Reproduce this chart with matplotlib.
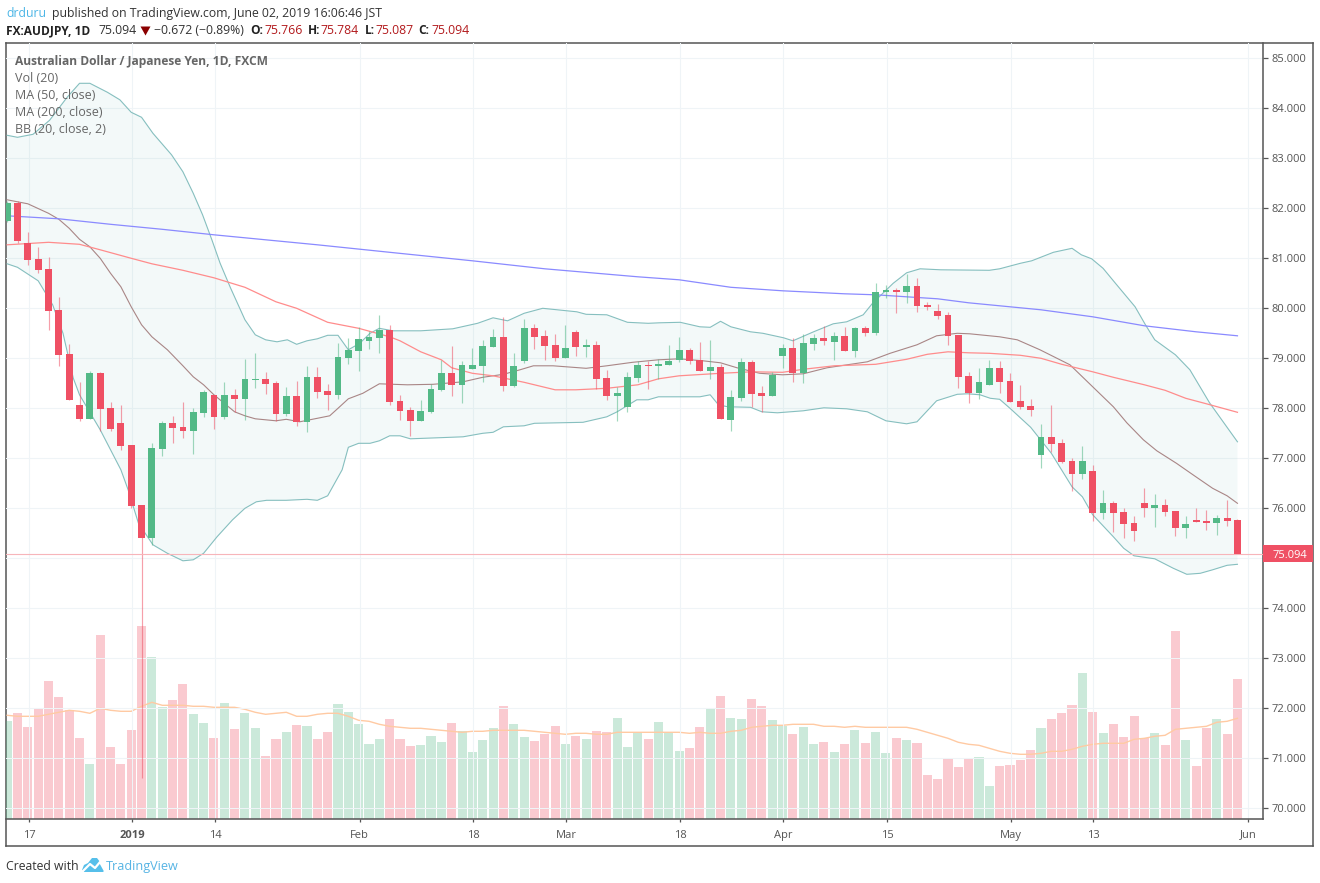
# -*- coding: utf-8 -*-
#-------------------------------------------------------------------------------
# AUD/JPY daily candles with volume, moving averages and Bollinger bands
#-------------------------------------------------------------------------------
import matplotlib
matplotlib.use("Agg")
import matplotlib.pyplot as plt
from matplotlib.patches import Polygon, Rectangle
from matplotlib.transforms import Affine2D, blended_transform_factory

#-------------------------------------------------------------------------------
# candles, one value per trading day
#-------------------------------------------------------------------------------
opens = [81.75, 82.10, 81.30, 80.98, 80.78, 79.96, 79.08, 78.07, 77.79, 78.71,
         78.01, 77.71, 77.27, 76.07, 75.41, 77.19, 77.71, 77.63, 77.55, 77.91,
         78.27, 77.83, 78.27, 78.19, 78.57, 78.59, 78.51, 77.89, 78.25, 77.73,
         78.63, 78.35, 78.27, 79.01, 79.15, 79.35, 79.41, 79.57, 78.15, 77.97,
         77.75, 77.93, 78.37, 78.71, 78.47, 78.79, 78.85, 79.23, 79.43, 78.45,
         78.95, 79.61, 79.45, 79.27, 79.01, 79.53, 79.23, 79.27, 78.61, 78.25,
         78.03, 78.61, 78.87, 78.85, 78.87, 78.97, 79.17, 78.97, 78.75, 78.83,
         77.77, 78.21, 78.93, 78.31, 78.25, 79.05, 79.21, 78.71, 79.29, 79.41,
         79.33, 79.45, 79.15, 79.61, 79.51, 80.33, 80.37, 80.33, 80.45, 80.07,
         79.95, 79.87, 79.47, 78.65, 78.31, 78.47, 78.81, 78.55, 78.15, 78.05,
         77.07, 77.43, 77.31, 76.95, 76.69, 76.75, 75.91, 76.11, 75.93, 75.71,
         76.11, 76.01, 76.07, 75.95, 75.61, 75.77, 75.75, 75.71, 75.81, 75.766]
highs = [82.15, 82.14, 81.52, 81.22, 81.02, 80.22, 79.29, 78.53, 78.74, 78.72,
         78.13, 78.07, 77.27, 76.07, 77.30, 77.75, 77.85, 78.13, 78.00, 78.37,
         78.27, 78.53, 78.39, 78.99, 79.11, 78.73, 78.55, 78.43, 78.55, 78.85,
         78.83, 78.49, 79.31, 79.41, 79.63, 79.55, 79.87, 79.67, 78.27, 78.03,
         78.17, 78.49, 78.97, 79.25, 78.95, 79.21, 79.37, 79.59, 79.83, 79.11,
         79.79, 79.69, 79.57, 79.49, 79.67, 79.57, 79.39, 79.35, 78.77, 78.43,
         78.73, 78.95, 78.95, 78.99, 79.27, 79.43, 79.21, 79.33, 79.37, 78.89,
         78.37, 79.01, 78.97, 78.45, 78.73, 79.29, 79.41, 79.49, 79.49, 79.65,
         79.53, 79.63, 79.63, 79.65, 80.51, 80.47, 80.41, 80.69, 80.61, 80.13,
         80.09, 79.93, 79.47, 78.73, 78.81, 78.97, 78.95, 78.71, 78.47, 78.19,
         77.69, 78.07, 77.39, 77.01, 77.25, 76.87, 76.37, 76.15, 76.01, 75.85,
         76.41, 76.29, 76.19, 75.95, 75.85, 76.01, 75.97, 75.87, 76.17, 75.784]
lows = [81.72, 81.30, 80.86, 80.70, 79.57, 78.85, 78.17, 77.75, 77.79, 77.54,
        77.55, 77.17, 76.00, 70.60, 75.27, 77.05, 77.31, 77.41, 77.09, 77.83,
        77.59, 77.79, 77.93, 77.77, 78.41, 78.29, 77.75, 77.85, 77.65, 77.53,
        78.21, 77.97, 78.19, 78.89, 78.75, 79.19, 79.11, 78.07, 77.77, 77.45,
        77.75, 77.91, 78.35, 78.25, 78.11, 78.79, 78.53, 79.23, 78.35, 78.43,
        78.91, 79.19, 78.97, 78.95, 79.01, 79.05, 79.03, 78.39, 78.17, 77.75,
        77.93, 78.53, 78.39, 78.59, 78.87, 78.93, 78.89, 78.75, 78.59, 77.79,
        77.55, 78.15, 78.03, 77.93, 78.25, 78.81, 78.53, 78.51, 79.17, 79.27,
        78.97, 79.15, 79.03, 79.45, 79.47, 80.21, 79.91, 80.11, 79.93, 79.97,
        79.79, 79.27, 78.41, 78.11, 78.19, 78.47, 78.31, 78.13, 77.99, 77.85,
        76.81, 77.13, 76.91, 76.35, 76.59, 75.75, 75.79, 75.53, 75.41, 75.35,
        75.83, 75.63, 75.85, 75.45, 75.41, 75.73, 75.57, 75.47, 75.65, 75.087]
closes = [82.10, 81.35, 80.97, 80.77, 79.95, 79.07, 78.17, 77.79, 78.71, 77.99,
          77.59, 77.25, 76.05, 75.41, 77.20, 77.71, 77.61, 77.55, 77.93, 78.33,
          77.83, 78.27, 78.19, 78.59, 78.59, 78.49, 77.89, 78.25, 77.73, 78.63,
          78.33, 78.27, 79.03, 79.17, 79.39, 79.43, 79.57, 78.13, 77.95, 77.75,
          77.95, 78.39, 78.71, 78.47, 78.87, 78.87, 79.25, 79.43, 78.45, 78.85,
          79.61, 79.43, 79.25, 79.01, 79.21, 79.23, 79.27, 78.59, 78.25, 78.31,
          78.63, 78.87, 78.85, 78.89, 78.95, 79.17, 78.95, 78.75, 78.83, 77.79,
          78.23, 78.93, 78.29, 78.25, 78.67, 79.21, 78.71, 79.31, 79.41, 79.35,
          79.45, 79.15, 79.61, 79.51, 80.33, 80.37, 80.33, 80.45, 80.05, 80.03,
          79.85, 79.45, 78.63, 78.31, 78.53, 78.81, 78.53, 78.13, 78.03, 77.97,
          77.43, 77.29, 76.93, 76.69, 76.95, 75.91, 76.11, 75.91, 75.69, 75.55,
          76.01, 76.07, 75.93, 75.61, 75.69, 75.73, 75.71, 75.81, 75.75, 75.094]
last_price = 75.094

#-------------------------------------------------------------------------------
# volume (no scale on the chart, so arbitrary units) and its average
#-------------------------------------------------------------------------------
volume = [98, 106, 92, 110, 138, 122, 109, 81, 55, 184,
          72, 55, 89, 193, 162, 112, 119, 135, 105, 96,
          81, 116, 90, 106, 91, 63, 80, 87, 94, 93,
          80, 87, 115, 107, 95, 75, 80, 100, 80, 73,
          74, 83, 77, 96, 88, 67, 79, 91, 113, 95,
          82, 78, 85, 93, 75, 83, 80, 88, 87, 101,
          72, 86, 80, 97, 87, 68, 71, 92, 111, 123,
          101, 100, 120, 113, 99, 93, 85, 92, 75, 77,
          67, 75, 89, 76, 87, 66, 81, 79, 76, 44,
          40, 60, 52, 61, 62, 33, 53, 54, 59, 69,
          91, 100, 106, 114, 146, 107, 86, 95, 82, 103,
          81, 86, 74, 188, 79, 53, 91, 100, 85, 140]
vol_ma = [104, 103, 103, 103, 105, 107, 109, 108, 106, 111,
          109, 108, 108, 113, 117, 114, 114, 114, 113, 113,
          112, 112, 112, 110, 107, 105, 106, 107, 103, 103,
          105, 106, 106, 103, 99, 98, 95, 93, 92, 91,
          91, 90, 89, 88, 87, 88, 88, 89, 89, 89,
          89, 88, 87, 86, 85, 86, 86, 85, 85, 87,
          87, 87, 87, 87, 87, 87, 86, 87, 86, 86,
          88, 89, 92, 93, 94, 94, 95, 95, 95, 93,
          93, 92, 93, 92, 92, 92, 92, 92, 90, 87,
          84, 81, 77, 75, 74, 71, 68, 66, 65, 65,
          66, 68, 68, 70, 73, 75, 76, 76, 76, 80,
          81, 83, 84, 90, 91, 92, 93, 97, 98, 101]

#-------------------------------------------------------------------------------
# indicator lines: bar number of each vertex, then its price
#-------------------------------------------------------------------------------
ma200_x = [0, 5, 10, 15, 20, 25, 30, 37, 45, 52, 61, 65, 70, 75, 81, 84,
           90, 93, 100, 105, 110, 115, 119]
ma200_y = [81.85, 81.79, 81.68, 81.58, 81.47, 81.37, 81.27, 81.12, 80.95, 80.79,
           80.63, 80.57, 80.42, 80.35, 80.29, 80.27, 80.19, 80.11, 79.97, 79.83,
           79.65, 79.53, 79.45]

ma50_x = [0, 4, 7, 9, 12, 14, 17, 20, 23, 26, 28, 31, 34, 37, 38, 40, 42, 43, 45,
          47, 50, 53, 55, 58, 61, 63, 65, 69, 72, 75, 77, 80, 84, 87, 89, 91, 93,
          95, 98, 100, 102, 105, 107, 110, 112, 114, 116, 119]
ma50_y = [81.27, 81.32, 81.28, 81.17, 81.00, 80.89, 80.76, 80.61, 80.42, 80.13,
          80.00, 79.72, 79.60, 79.43, 79.35, 79.13, 78.97, 78.81, 78.70, 78.65,
          78.52, 78.37, 78.37, 78.40, 78.47, 78.59, 78.65, 78.70, 78.73, 78.72,
          78.78, 78.85, 78.88, 78.98, 79.08, 79.13, 79.11, 79.10, 79.06, 79.00,
          78.88, 78.73, 78.62, 78.47, 78.36, 78.20, 78.09, 77.92]

bb_mid_x = [0, 2, 4, 5, 6, 7, 8, 9, 10, 11, 12, 13, 14, 15.5, 17, 18, 19, 20, 21,
            22, 23, 24, 26, 27, 28.3, 30, 31.2, 32, 33, 34.4, 36, 38.7, 41.2,
            44.1, 46, 48, 49.6, 50.9, 52.8, 56, 58, 60.5, 62, 63, 65, 67.3, 69,
            70.6, 72.8, 75, 77, 79.3, 83.2, 85.4, 88, 89.9, 91.9, 93.1, 96, 97.7,
            99.9, 102.8, 105, 107, 108.3, 109.9, 111.2, 113.1, 114.7, 116.6, 118,
            119]
bb_mid_y = [82.17, 82.09, 81.90, 81.78, 81.60, 81.38, 81.23, 81.00, 80.70, 80.43,
            80.03, 79.67, 79.43, 79.17, 78.85, 78.63, 78.47, 78.27, 78.10, 77.93,
            77.85, 77.79, 77.75, 77.78, 77.73, 77.80, 77.85, 78.00, 78.19, 78.30,
            78.49, 78.47, 78.48, 78.53, 78.62, 78.68, 78.77, 78.85, 78.85, 78.80,
            78.85, 78.92, 78.95, 78.97, 78.99, 78.95, 78.91, 78.81, 78.70, 78.67,
            78.69, 78.81, 78.93, 79.10, 79.27, 79.45, 79.50, 79.49, 79.43, 79.37,
            79.17, 78.87, 78.43, 78.03, 77.71, 77.37, 77.15, 76.90, 76.67, 76.40,
            76.25, 76.10]

bb_up_x = [0, 1, 2.5, 4.1, 5.8, 7, 8, 9.7, 10.9, 12, 13, 14.1, 15.9, 17, 18, 18.9,
           19.8, 20.6, 21.6, 23, 24, 25, 26.1, 27.1, 28, 29, 30, 31, 32, 33,
           34.1, 35.1, 36, 37.3, 40, 43.1, 45.5, 47, 48.4, 50, 51.8, 55.1, 56,
           58, 60, 62, 63.1, 65.1, 67, 68, 69, 70, 71.9, 73.1, 75.1, 76, 78, 79.9,
           81.2, 82.8, 83.7, 85.7, 87, 88.3, 90.3, 95, 96, 98, 99.1, 101.2, 103,
           103.9, 104.9, 106, 107.2, 109.1, 110.1, 111, 113, 114.4, 116.3, 119]
bb_up_y = [83.46, 83.42, 83.48, 83.76, 84.22, 84.50, 84.50, 84.32, 84.17, 83.92,
           83.82, 83.50, 83.07, 82.73, 82.30, 81.87, 81.37, 80.90, 80.41, 79.77,
           79.47, 79.37, 79.33, 79.37, 79.28, 79.35, 79.39, 79.46, 79.46, 79.17,
           79.30, 79.50, 79.60, 79.55, 79.55, 79.59, 79.70, 79.81, 79.75, 79.90,
           80.00, 79.93, 79.88, 79.87, 79.72, 79.70, 79.71, 79.72, 79.63, 79.62,
           79.74, 79.63, 79.53, 79.50, 79.41, 79.35, 79.53, 79.69, 79.73, 79.87,
           80.10, 80.50, 80.71, 80.79, 80.77, 80.76, 80.79, 80.90, 80.95, 81.12,
           81.20, 81.07, 80.99, 80.80, 80.50, 80.03, 79.67, 79.37, 79.07, 78.77,
           78.11, 77.33]

bb_lo_x = [0, 1, 3, 4.4, 5.4, 6.4, 7, 9, 11, 11.7, 12.7, 14.1, 15.5, 17, 18, 19,
           20.3, 21.8, 23, 24.1, 25.1, 27, 29, 30, 31, 32.4, 33, 34, 35.1, 36, 37,
           38, 39, 41.6, 44.1, 46, 47, 48, 50, 51, 55.7, 58, 59, 60.9, 62, 63, 67,
           68, 68.8, 69.7, 71.9, 73, 74.5, 77, 79, 81.2, 83.2, 85, 87, 88, 89.9,
           91.9, 92.9, 94.1, 95.1, 96, 97, 99, 101, 103, 104, 105, 107, 108, 109,
           111, 112.8, 114.1, 115.4, 116.6, 118, 119]
bb_lo_y = [80.89, 80.82, 80.55, 80.07, 79.50, 78.60, 78.27, 77.57, 76.77, 76.37,
           75.70, 75.27, 75.10, 74.95, 74.97, 75.10, 75.43, 75.77, 76.00, 76.13,
           76.16, 76.16, 76.18, 76.16, 76.25, 76.77, 77.22, 77.30, 77.30, 77.35,
           77.45, 77.45, 77.39, 77.41, 77.43, 77.50, 77.52, 77.63, 77.65, 77.70,
           77.72, 77.83, 77.93, 78.17, 78.17, 78.23, 78.23, 78.27, 78.07, 78.03,
           78.02, 77.93, 77.91, 77.95, 78.01, 77.99, 77.93, 77.75, 77.69, 77.73,
           78.15, 78.28, 78.29, 78.27, 78.20, 78.18, 78.00, 77.62, 77.10, 76.43,
           76.23, 75.87, 75.43, 75.20, 75.05, 74.99, 74.80, 74.68, 74.70, 74.77,
           74.86, 74.88]

price_ticks = [70, 71, 72, 73, 74, 75, 76, 77, 78, 79, 80, 81, 82, 83, 84, 85]
date_ticks = [2.16, 12.12, 20.15, 34.08, 45.09, 54.08, 65.11, 75.07, 85.13,
              97.12, 105.05, 120.04]
date_labels = ['17', '2019', '14', 'Feb', '18', 'Mar', '18', 'Apr', '15', 'May',
               '13', 'Jun']

#-------------------------------------------------------------------------------
# figure and axes, laid out in pixels
#-------------------------------------------------------------------------------
W, H = 1320, 883
UP, DOWN = '#53b987', '#ef5064'
FRAME = '#555555'
FONT = 'Open Sans'

fig = plt.figure(figsize=(W/100, H/100), dpi=100, facecolor='white')
pix = Affine2D().scale(1, -1).translate(0, H)      # y measured from the top

def box(x0, y0, x1, y1):
    return [x0/W, 1 - y1/H, (x1 - x0)/W, (y1 - y0)/H]

outer = fig.add_axes(box(6.5, 43.3, 1313.3, 846))
outer.set_xticks([])
outer.set_yticks([])
for s in outer.spines.values():
    s.set_color(FRAME)
    s.set_linewidth(1.1)

vol_ax = fig.add_axes(box(6.5, 43.3, 1263.3, 819.3))
vol_ax.patch.set_visible(False)
vol_ax.axis('off')

ax = fig.add_axes(box(6.5, 43.3, 1263.3, 819.3))
ax.patch.set_visible(False)

xs = list(range(len(closes)))
colors = [UP if c >= o else DOWN for o, c in zip(opens, closes)]

#-------------------------------------------------------------------------------
# volume pane
#-------------------------------------------------------------------------------
vol_ax.bar(xs, volume, width=0.88, color=colors, alpha=0.3, linewidth=0)
vol_ax.plot(xs, vol_ma, color='#ffcaa3', lw=1.0)
vol_ax.set_xlim(-0.064, 121.5)
vol_ax.set_ylim(0, 776)

#-------------------------------------------------------------------------------
# bollinger band, averages
#-------------------------------------------------------------------------------
ax.fill(bb_up_x + bb_lo_x[::-1], bb_up_y + bb_lo_y[::-1], color='#7fbfbf',
        alpha=0.09, linewidth=0, zorder=1)
ax.plot(bb_up_x, bb_up_y, color='#86bfbf', lw=0.8, zorder=2)
ax.plot(bb_lo_x, bb_lo_y, color='#86bfbf', lw=0.8, zorder=2)
ax.plot(bb_mid_x, bb_mid_y, color='#a98686', lw=0.8, zorder=2)
ax.plot(ma200_x, ma200_y, color='#8a8aff', lw=0.9, zorder=2)
ax.plot(ma50_x, ma50_y, color='#ff8c8c', lw=0.9, zorder=2)

#-------------------------------------------------------------------------------
# candles
#-------------------------------------------------------------------------------
ax.vlines(xs, lows, highs, colors=colors, linewidth=0.85, alpha=0.55, zorder=3)
ax.bar(xs, [c - o for o, c in zip(opens, closes)], bottom=opens, width=0.66,
       color=colors, linewidth=0, zorder=4)

#-------------------------------------------------------------------------------
# axes, grid and last price marker
#-------------------------------------------------------------------------------
ax.set_xlim(-0.064, 121.5)
ax.set_ylim(69.78, 85.3)
ax.yaxis.tick_right()
ax.set_yticks(price_ticks)
ax.set_yticklabels(['%.3f' % p for p in price_ticks])
ax.set_xticks(date_ticks)
ax.set_xticklabels(date_labels)
ax.grid(True, color='#eff4f7', lw=0.75)
ax.set_axisbelow(True)
ax.tick_params(axis='y', length=3.4, width=0.9, color=FRAME, labelcolor='#555555',
               labelsize=8.0, pad=2.4)
ax.tick_params(axis='x', length=2.2, width=0.9, color=FRAME, labelcolor='#555555',
               labelsize=8.0, pad=5.2)
for lab in ax.get_xticklabels() + ax.get_yticklabels():
    lab.set_fontfamily(FONT)
ax.get_xticklabels()[1].set_fontweight('bold')
for s in ['top', 'left']:
    ax.spines[s].set_visible(False)
for s in ['bottom', 'right']:
    ax.spines[s].set_color(FRAME)
    ax.spines[s].set_linewidth(1.1)

ax.axhline(last_price, color='#f7b5ba', lw=0.8, zorder=3)
mark = blended_transform_factory(ax.transAxes, ax.transData)
ax.add_patch(Rectangle((1.0, last_price - 0.167), 50/1256.8, 0.334, transform=mark,
                       facecolor=DOWN, edgecolor='none', clip_on=False, zorder=10))
ax.text(1 + 9/1256.8, last_price, '%.3f' % last_price, transform=mark, color='white',
        fontsize=8.0, family=FONT, va='center_baseline', ha='left', zorder=11)

#-------------------------------------------------------------------------------
# header, legend and footer
#-------------------------------------------------------------------------------
def put(x, y, s, color='#333333', size=8.8, weight='normal'):
    fig.text(x, y, s, transform=pix, color=color, fontsize=size, family=FONT,
             fontweight=weight, va='baseline', ha='left')

RED = '#b2191c'
put(6.5, 17, 'drduru', color='#4db6e6')
put(51.5, 17, 'published on TradingView.com, June 02, 2019 16:06:46 JST')

put(6.5, 34, 'FX:AUDJPY, 1D', color='#222222', weight='bold', size=8.6)
put(98.5, 34, '75.094')
fig.add_artist(Polygon([(140.5, 26.5), (150.5, 26.5), (145.5, 35.5)], closed=True,
                       transform=pix, facecolor='#8b0000', edgecolor='none'))
put(154.5, 34, '\u22120.672 (\u22120.89%)')
for x, lab, xv, val in [(250, 'O:', 264, '75.766'), (307.5, 'H:', 320, '75.784'),
                        (364.5, 'L:', 375.5, '75.087'), (418.5, 'C:', 431, '75.094')]:
    put(x, 34, lab, color='#222222', weight='bold', size=8.6)
    put(xv, 34, val, color=RED)

put(15, 65, 'Australian Dollar / Japanese Yen, 1D, FXCM', color='#666666', weight='bold',
    size=8.65)
put(15, 82, 'Vol (20)', color='#666666', size=9.0)
put(15, 99, 'MA (50, close)', color='#666666', size=9.0)
put(15, 116, 'MA (200, close)', color='#666666', size=9.0)
put(15, 133, 'BB (20, close, 2)', color='#666666', size=9.0)

put(6.5, 870, 'Created with')
put(106, 870, 'TradingView', color='#56b4e4', size=9.1)
fig.add_artist(Polygon([(82, 870), (84, 865), (88, 863), (92, 858), (97, 858),
                        (100, 862), (102, 866), (105, 870), (103, 872), (84, 872)],
                       closed=True, transform=pix, facecolor='#56bfea', edgecolor='none'))
fig.add_artist(plt.Line2D([83, 90, 95, 100, 105], [871, 864, 868, 862, 871], transform=pix,
                          color='white', lw=1.6))

fig.savefig('out.png', dpi=100, facecolor='white')
